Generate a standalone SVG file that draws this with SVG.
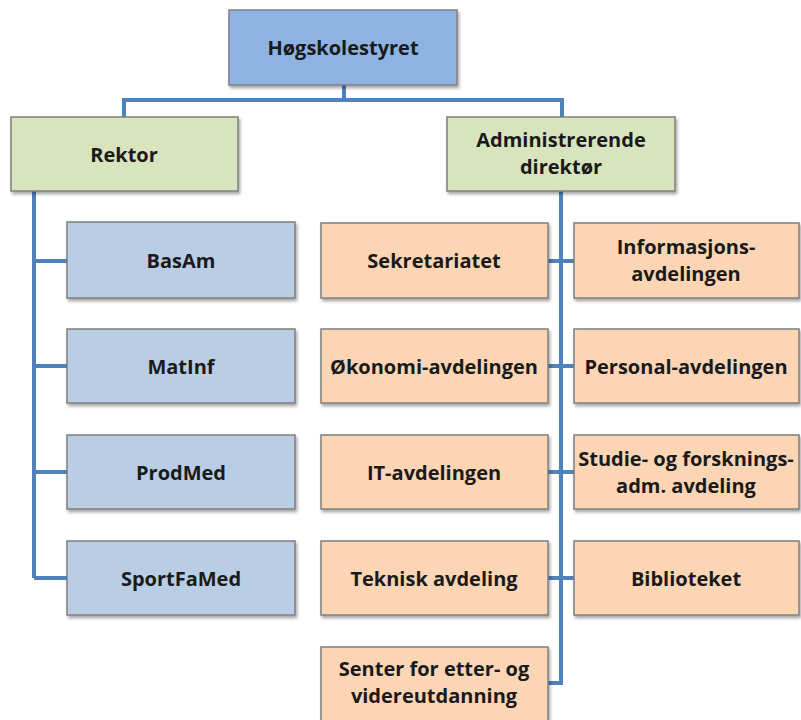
<svg xmlns="http://www.w3.org/2000/svg" width="801" height="720" viewBox="0 0 801 720">
<style>
.box{stroke:#7f7f7f;stroke-width:1.5}
.top{fill:#8db3e2}
.grn{fill:#d7e4bd}
.blu{fill:#b9cde5}
.org{fill:#fcd5b5}
.conn{fill:none;stroke:#4f81bd;stroke-width:4;stroke-linejoin:miter}
text{font-family:"Open Sans","Liberation Sans",sans-serif;font-weight:700;font-size:20px;fill:#1a1a1a;text-anchor:middle}
</style>
<defs>
<filter id="sh" x="-10%" y="-10%" width="130%" height="140%">
<feDropShadow dx="1.5" dy="2.5" stdDeviation="1.5" flood-color="#000" flood-opacity="0.35"/>
</filter>
</defs>
<rect width="801" height="720" fill="#fff"/>
<g id="connectors">
<path class="conn" d="M344 85V100M124 117V100H562V117"/>
<path class="conn" d="M34 191V578M34 261H67M34 366H67M34 472H67M34 578H67"/>
<path class="conn" d="M561 191V683H548M548 261H574M548 366H574M548 472H574M548 578H574"/>
</g>
<g id="hogskolestyret"><rect class="box top" x="229" y="10" width="228" height="75" filter="url(#sh)"/><text x="343" y="55">Høgskolestyret</text></g>
<g id="rektor"><rect class="box grn" x="11" y="117" width="227" height="74" filter="url(#sh)"/><text x="124" y="162">Rektor</text></g>
<g id="admdir"><rect class="box grn" x="447" y="117" width="228" height="74" filter="url(#sh)"/><text x="561" y="147">Administrerende</text><text x="561" y="174">direktør</text></g>
<g id="basam"><rect class="box blu" x="67" y="222" width="228" height="76" filter="url(#sh)"/><text x="181" y="268">BasAm</text></g>
<g id="matinf"><rect class="box blu" x="67" y="329" width="228" height="74" filter="url(#sh)"/><text x="181" y="374">MatInf</text></g>
<g id="prodmed"><rect class="box blu" x="67" y="435" width="228" height="74" filter="url(#sh)"/><text x="181" y="480">ProdMed</text></g>
<g id="sportfamed"><rect class="box blu" x="67" y="541" width="228" height="74" filter="url(#sh)"/><text x="181" y="586">SportFaMed</text></g>
<g id="sekretariatet"><rect class="box org" x="321" y="223" width="227" height="75" filter="url(#sh)"/><text x="434" y="268">Sekretariatet</text></g>
<g id="informasjon"><rect class="box org" x="574" y="223" width="225" height="75" filter="url(#sh)"/><text x="686" y="254">Informasjons-</text><text x="686" y="281">avdelingen</text></g>
<g id="okonomi"><rect class="box org" x="321" y="329" width="227" height="74" filter="url(#sh)"/><text x="434" y="374">Økonomi-avdelingen</text></g>
<g id="personal"><rect class="box org" x="574" y="329" width="225" height="74" filter="url(#sh)"/><text x="686" y="374">Personal-avdelingen</text></g>
<g id="it"><rect class="box org" x="321" y="435" width="227" height="74" filter="url(#sh)"/><text x="434" y="480">IT-avdelingen</text></g>
<g id="studie"><rect class="box org" x="574" y="435" width="225" height="74" filter="url(#sh)"/><text x="686" y="466">Studie- og forsknings-</text><text x="686" y="493">adm. avdeling</text></g>
<g id="teknisk"><rect class="box org" x="321" y="541" width="227" height="74" filter="url(#sh)"/><text x="434" y="586">Teknisk avdeling</text></g>
<g id="biblioteket"><rect class="box org" x="574" y="541" width="225" height="74" filter="url(#sh)"/><text x="686" y="586">Biblioteket</text></g>
<g id="senter"><rect class="box org" x="321" y="647" width="227" height="74" filter="url(#sh)"/><text x="434" y="676">Senter for etter- og</text><text x="434" y="703">videreutdanning</text></g>
</svg>
